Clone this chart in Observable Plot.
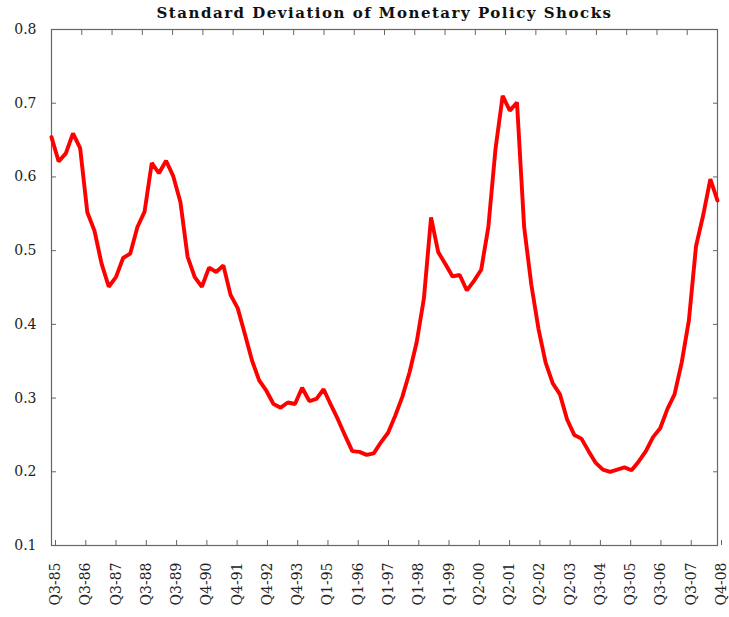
<!DOCTYPE html>
<html>
<head>
<meta charset="utf-8">
<script src="https://cdn.jsdelivr.net/npm/d3@7"></script>
<script src="https://cdn.jsdelivr.net/npm/@observablehq/plot@0.6"></script>
<style>
  html, body { margin: 0; padding: 0; background: #fff; }
  svg { display: block; }
</style>
</head>
<body>
<div id="chart"></div>
<script>
const title = "Standard Deviation of Monetary Policy Shocks";

// Quarterly series, Q3-1985 ... Q4-2008 (94 quarters), index 0..93
const values = [
  0.654, 0.621, 0.632, 0.659, 0.639, 0.552, 0.527, 0.482, 0.451, 0.464,
  0.490, 0.496, 0.532, 0.553, 0.619, 0.605, 0.622, 0.601, 0.566, 0.492,
  0.464, 0.451, 0.477, 0.471, 0.480, 0.440, 0.422, 0.387, 0.351, 0.324,
  0.310, 0.292, 0.287, 0.294, 0.292, 0.314, 0.296, 0.299, 0.312, 0.291,
  0.271, 0.249, 0.228, 0.227, 0.223, 0.225, 0.240, 0.253, 0.276, 0.302,
  0.335, 0.376, 0.435, 0.545, 0.498, 0.482, 0.465, 0.467, 0.446, 0.459,
  0.474, 0.532, 0.638, 0.710, 0.690, 0.701, 0.532, 0.454, 0.394, 0.348,
  0.320, 0.305, 0.271, 0.250, 0.245, 0.228, 0.212, 0.203, 0.200, 0.203,
  0.206, 0.202, 0.214, 0.228, 0.247, 0.259, 0.285, 0.305, 0.348, 0.405,
  0.506, 0.548, 0.597, 0.568
];

const tickLabels = [
  "Q3-85", "Q3-86", "Q3-87", "Q3-88", "Q3-89", "Q4-90", "Q4-91", "Q4-92",
  "Q4-93", "Q1-95", "Q1-96", "Q1-97", "Q1-98", "Q1-99", "Q2-00", "Q2-01",
  "Q2-02", "Q2-03", "Q3-04", "Q3-05", "Q3-06", "Q3-07", "Q4-08"
];

const yTicks = [0.1, 0.2, 0.3, 0.4, 0.5, 0.6, 0.7, 0.8];

const data = values.map((v, i) => ({i, v}));
const last = values.length - 1;
// tick labels are spread evenly across the quarter index range
const xTicks = tickLabels.map((_, k) => k * last / (tickLabels.length - 1));
const labelOf = new Map(xTicks.map((t, k) => [t, tickLabels[k]]));

const axisColor = "#666";
const font = "DejaVu Serif";

const chart = Plot.plot({
  width: 729,
  height: 617,
  marginLeft: 51,
  marginRight: 12,
  marginTop: 29,
  marginBottom: 72,
  style: {fontFamily: font, background: "#fff", color: "#222"},
  x: {domain: [0, last]},
  y: {domain: [0.1, 0.8]},
  marks: [
    Plot.frame({stroke: axisColor, strokeWidth: 1.2}),
    Plot.axisY(yTicks, {
      anchor: "left", tickSize: -5, tickPadding: 20, stroke: axisColor,
      fill: "#222", fontSize: 14, tickFormat: d => d.toFixed(1), label: null
    }),
    Plot.axisY(yTicks, {
      anchor: "right", tickSize: -5, stroke: axisColor, tickFormat: () => "", label: null
    }),
    Plot.axisX(xTicks, {
      anchor: "bottom", tickSize: -5, tickPadding: 22, tickRotate: -90, dx: 4,
      stroke: axisColor, fill: "#222", fontSize: 14,
      tickFormat: d => labelOf.get(d), label: null
    }),
    Plot.axisX(xTicks, {
      anchor: "top", tickSize: -5, stroke: axisColor, tickFormat: () => "", label: null
    }),
    Plot.line(data, {x: "i", y: "v", stroke: "#ff0000", strokeWidth: 3.9, strokeLinejoin: "miter"}),
    Plot.text([title], {
      frameAnchor: "top", dy: -12, lineAnchor: "bottom",
      fontSize: 15, fontWeight: "bold", fill: "#111", fontFamily: font
    })
  ]
});

d3.select(chart).selectAll("text")
  .filter(function() { return this.textContent === title; })
  .attr("letter-spacing", "1.5px");

document.getElementById("chart").appendChild(chart);
</script>
</body>
</html>
